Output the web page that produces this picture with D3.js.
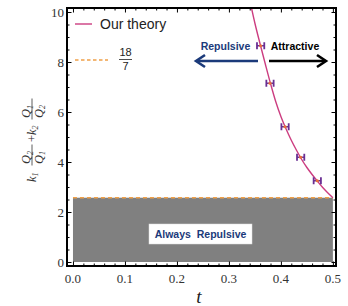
<!DOCTYPE html>
<html>
<head>
<meta charset="utf-8">
<script src="https://cdn.jsdelivr.net/npm/d3@7"></script>
<style>
  body { margin: 0; background: #fff; }
  svg { display: block; }
</style>
</head>
<body>
<svg id="chart" width="348" height="306"></svg>
<script>
'use strict'

// theory curve (t, value)
const curveT = [0.343, 0.35, 0.36, 0.37, 0.38, 0.39, 0.40, 0.41, 0.42, 0.43, 0.44, 0.45, 0.46, 0.47, 0.48, 0.49, 0.50]
const curveV = [10.2, 9.55, 8.72, 7.92, 7.14, 6.42, 5.82, 5.32, 4.87, 4.47, 4.1, 3.78, 3.5, 3.24, 2.99, 2.77, 2.571]

// measured points with horizontal error bars
const pointT = [0.361, 0.379, 0.408, 0.438, 0.470]
const pointV = [8.65, 7.15, 5.41, 4.19, 3.25]
const pointErr = [0.007, 0.007, 0.007, 0.007, 0.007]

const bound = 18 / 7
const xTicks = [0, 0.1, 0.2, 0.3, 0.4, 0.5]
const yTicks = [0, 2, 4, 6, 8, 10]

const svg = d3.select('#chart')

const x = d3.scaleLinear().domain([-0.0115, 0.506]).range([67, 336])
const y = d3.scaleLinear().domain([-0.16, 10.16]).range([266, 8])

const pink = '#cc3d80'
const orange = '#f0a048'
const navy = '#1b3a7a'
const purple = '#6a2f93'

// always repulsive region
svg.append('rect')
    .attr('x', x(0))
    .attr('y', y(bound))
    .attr('width', x(0.5) - x(0))
    .attr('height', y(0) - y(bound))
    .attr('fill', '#808080')

svg.append('line')
    .attr('x1', x(0)).attr('x2', x(0.5))
    .attr('y1', y(bound)).attr('y2', y(bound))
    .attr('stroke', orange)
    .attr('stroke-width', 1.6)
    .attr('stroke-dasharray', '4,3')

const boxG = svg.append('g')
boxG.append('rect')
    .attr('x', 149).attr('y', 224)
    .attr('width', 103).attr('height', 20)
    .attr('fill', '#fff')
    .attr('stroke', '#ddd')
    .attr('stroke-width', 0.5)
boxG.append('text')
    .attr('x', 200.5).attr('y', 238)
    .attr('text-anchor', 'middle')
    .attr('font-family', 'Liberation Sans, Arial, sans-serif')
    .attr('font-weight', 'bold')
    .attr('font-size', 10.5)
    .attr('fill', navy)
    .attr('xml:space', 'preserve')
    .text('Always  Repulsive')

// theory curve
const line = d3.line()
    .x(function (d) { return x(d[0]) })
    .y(function (d) { return y(d[1]) })
    .curve(d3.curveMonotoneX)

svg.append('defs').append('clipPath').attr('id', 'plotclip')
    .append('rect')
    .attr('x', 67).attr('y', 8).attr('width', 269).attr('height', 258)

svg.append('path')
    .datum(d3.zip(curveT, curveV))
    .attr('d', line)
    .attr('clip-path', 'url(#plotclip)')
    .attr('fill', 'none')
    .attr('stroke', pink)
    .attr('stroke-width', 1.4)

// error bars
const pts = svg.append('g').selectAll('g')
    .data(d3.zip(pointT, pointV, pointErr))
    .enter()
    .append('g')

pts.append('line')
    .attr('x1', function (d) { return x(d[0] - d[2]) })
    .attr('x2', function (d) { return x(d[0] + d[2]) })
    .attr('y1', function (d) { return y(d[1]) })
    .attr('y2', function (d) { return y(d[1]) })
    .attr('stroke', purple)
    .attr('stroke-width', 1.5)
pts.selectAll('.cap')
    .data(function (d) { return [[d[0] - d[2], d[1]], [d[0] + d[2], d[1]]] })
    .enter()
    .append('line')
    .attr('class', 'cap')
    .attr('x1', function (d) { return x(d[0]) })
    .attr('x2', function (d) { return x(d[0]) })
    .attr('y1', function (d) { return y(d[1]) - 3.5 })
    .attr('y2', function (d) { return y(d[1]) + 3.5 })
    .attr('stroke', purple)
    .attr('stroke-width', 1.8)
pts.append('circle')
    .attr('cx', function (d) { return x(d[0]) })
    .attr('cy', function (d) { return y(d[1]) })
    .attr('r', 1.6)
    .attr('fill', '#e8703a')

// arrows
function arrow(x1, x2, yy, color) {
    const dir = x2 > x1 ? 1 : -1
    svg.append('line')
        .attr('x1', x1).attr('x2', x2 - dir * 2)
        .attr('y1', yy).attr('y2', yy)
        .attr('stroke', color)
        .attr('stroke-width', 2.6)
    svg.append('path')
        .attr('d', 'M' + (x2 - dir * 9) + ',' + (yy - 6) + 'L' + x2 + ',' + yy + 'L' + (x2 - dir * 9) + ',' + (yy + 6))
        .attr('fill', 'none')
        .attr('stroke', color)
        .attr('stroke-width', 2.6)
        .attr('stroke-linejoin', 'miter')
}
arrow(258, 196, 61, navy)
arrow(269, 326, 61, '#000')

svg.append('text')
    .attr('x', 225.5).attr('y', 50)
    .attr('text-anchor', 'middle')
    .attr('font-family', 'Liberation Sans, Arial, sans-serif')
    .attr('font-weight', 'bold')
    .attr('font-size', 10.5)
    .attr('fill', navy)
    .text('Repulsive')
svg.append('text')
    .attr('x', 295).attr('y', 50)
    .attr('text-anchor', 'middle')
    .attr('font-family', 'Liberation Sans, Arial, sans-serif')
    .attr('font-weight', 'bold')
    .attr('font-size', 10.5)
    .attr('fill', '#000')
    .text('Attractive')

// legend
svg.append('line')
    .attr('x1', 75).attr('x2', 92).attr('y1', 24).attr('y2', 24)
    .attr('stroke', pink).attr('stroke-width', 1.4)
svg.append('text')
    .attr('x', 100).attr('y', 29)
    .attr('font-family', 'Liberation Sans, Arial, sans-serif')
    .attr('font-size', 14)
    .attr('fill', '#222')
    .text('Our theory')
svg.append('line')
    .attr('x1', 75).attr('x2', 108).attr('y1', 60).attr('y2', 60)
    .attr('stroke', orange).attr('stroke-width', 1.4)
    .attr('stroke-dasharray', '3.5,2.5')
svg.append('text')
    .attr('x', 125.5).attr('y', 56)
    .attr('text-anchor', 'middle')
    .attr('font-family', 'Liberation Sans, Arial, sans-serif')
    .attr('font-size', 11)
    .attr('fill', '#222')
    .text('18')
svg.append('line')
    .attr('x1', 119).attr('x2', 132).attr('y1', 59.5).attr('y2', 59.5)
    .attr('stroke', '#222').attr('stroke-width', 0.8)
svg.append('text')
    .attr('x', 125.5).attr('y', 70)
    .attr('text-anchor', 'middle')
    .attr('font-family', 'Liberation Sans, Arial, sans-serif')
    .attr('font-size', 11)
    .attr('fill', '#222')
    .text('7')

// axes with inward ticks on all four sides
const xMinor = d3.range(0, 0.5001, 0.02).filter(function (v) { return Math.abs(v * 10 - Math.round(v * 10)) > 1e-6 })
const yMinor = d3.range(0, 10.001, 0.5).filter(function (v) { return v % 2 !== 0 })

function tickAxis(axisFn, scale, vals, size, tx, ty) {
    svg.append('g')
        .attr('transform', 'translate(' + tx + ',' + ty + ')')
        .call(axisFn(scale).tickValues(vals).tickSize(size).tickFormat(''))
        .call(function (g) {
            g.select('.domain').remove()
            g.selectAll('line').attr('stroke', '#000').attr('stroke-width', 1)
        })
}
tickAxis(d3.axisTop, x, xTicks, 4.5, 0, 266)
tickAxis(d3.axisTop, x, xMinor, 2.5, 0, 266)
tickAxis(d3.axisBottom, x, xTicks, 4.5, 0, 8)
tickAxis(d3.axisBottom, x, xMinor, 2.5, 0, 8)
tickAxis(d3.axisRight, y, yTicks, 4.5, 67, 0)
tickAxis(d3.axisRight, y, yMinor, 2.5, 67, 0)
tickAxis(d3.axisLeft, y, yTicks, 4.5, 336, 0)
tickAxis(d3.axisLeft, y, yMinor, 2.5, 336, 0)

svg.append('rect')
    .attr('x', 67).attr('y', 8)
    .attr('width', 269).attr('height', 258)
    .attr('fill', 'none')
    .attr('stroke', '#000')
    .attr('stroke-width', 2)

// tick labels
const serif = 'Liberation Serif, Times New Roman, serif'
svg.append('g').selectAll('text')
    .data(xTicks)
    .enter()
    .append('text')
    .attr('x', function (d) { return x(d) })
    .attr('y', 283)
    .attr('text-anchor', 'middle')
    .attr('font-family', serif)
    .attr('font-size', 13)
    .attr('fill', '#333')
    .text(d3.format('.1f'))
svg.append('g').selectAll('text')
    .data(yTicks)
    .enter()
    .append('text')
    .attr('x', 64)
    .attr('y', function (d) { return y(d) + 4.5 })
    .attr('text-anchor', 'end')
    .attr('font-family', serif)
    .attr('font-size', 13)
    .attr('fill', '#333')
    .text(function (d) { return d })

// axis titles
svg.append('text')
    .attr('x', 199).attr('y', 303)
    .attr('text-anchor', 'middle')
    .attr('font-family', serif)
    .attr('font-style', 'italic')
    .attr('font-size', 19)
    .attr('fill', '#222')
    .text('t')

const yl = svg.append('g')
    .attr('transform', 'translate(32,140) rotate(-90)')
    .attr('font-family', serif)
    .attr('font-style', 'italic')
    .attr('font-size', 12.5)
    .attr('fill', '#333')

function sym(xp, yp, main, sub) {
    const t = yl.append('text').attr('x', xp).attr('y', yp)
    t.append('tspan').text(main)
    if (sub) {
        t.append('tspan').attr('font-size', 8).attr('dy', 2.5).text(sub)
    }
}
function frac(cx, top, topSub, bot, botSub) {
    sym(cx - 9, -2, top, topSub)
    sym(cx - 9, 10.5, bot, botSub)
    yl.append('line')
        .attr('x1', cx - 10.5).attr('x2', cx + 10.5)
        .attr('y1', 0).attr('y2', 0)
        .attr('stroke', '#333').attr('stroke-width', 0.8)
}
sym(-42, 3.5, 'k', '1')
frac(-15, 'Q', '2', 'Q', '1')
const plus = yl.append('text').attr('x', -2).attr('y', 3.5)
plus.append('tspan').attr('font-style', 'normal').text('+')
plus.append('tspan').text('k')
plus.append('tspan').attr('font-size', 8).attr('dy', 2.5).text('2')
frac(31, 'Q', '1', 'Q', '2')
</script>
</body>
</html>
